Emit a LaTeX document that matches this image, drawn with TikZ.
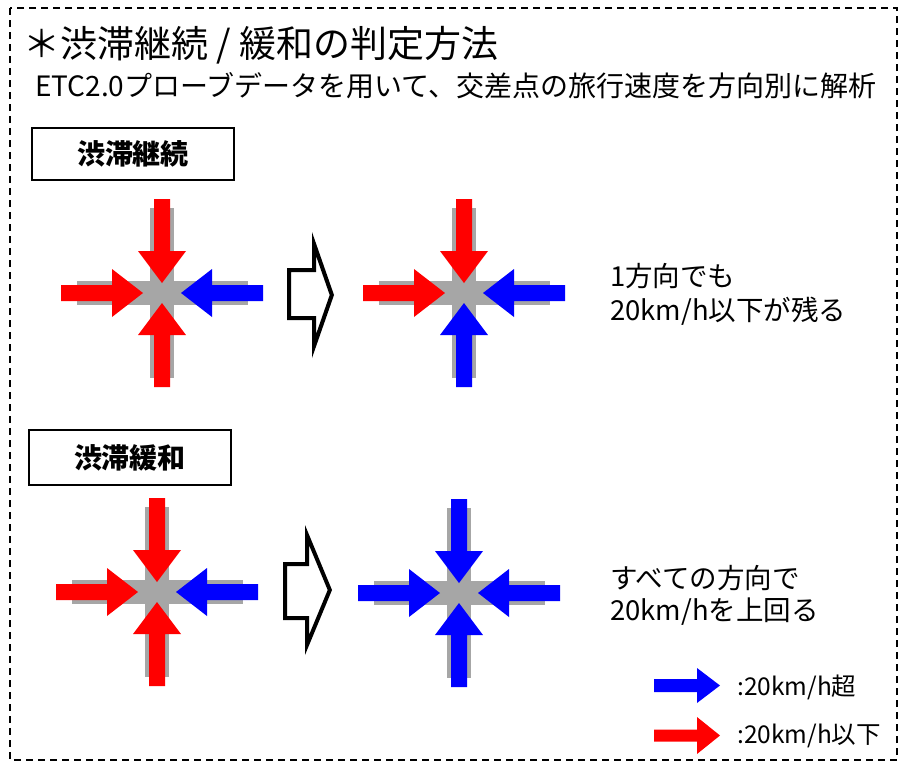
\documentclass[tikz,border=0pt]{standalone}
\usepackage{fontspec}
\setmainfont{Noto Sans CJK JP}
\definecolor{rd}{RGB}{255,0,0}
\definecolor{bl}{RGB}{0,0,255}
\definecolor{gr}{RGB}{166,166,166}
% horizontal incoming arrow (from the left)
\newcommand\harr[2]{\fill[#1,rotate=#2] (-101,-8) -- (-50,-8) -- (-50,-24) -- (-19,0) -- (-50,24) -- (-50,8) -- (-101,8) -- cycle;}
% vertical incoming arrow (from the left before rotation)
\newcommand\varr[2]{\fill[#1,rotate=#2] (-94,-8) -- (-42,-8) -- (-42,-24) -- (-10,0) -- (-42,24) -- (-42,8) -- (-94,8) -- cycle;}
\newcommand\crossing[6]{%
  \begin{scope}[shift={(#1,#2)}]
    \fill[gr] (-85,-12) rectangle (86,12);
    \fill[gr] (-12,-85) rectangle (12,85);
    \harr{#4}{0}
    \harr{#5}{180}
    \varr{#3}{-90}
    \varr{#6}{90}
  \end{scope}}
\begin{document}
\begin{tikzpicture}[x=1pt,y=-1pt,
  txt/.style={inner sep=0pt, anchor=west},
  labbox/.style={draw, line width=2pt, minimum width=202pt, inner sep=0pt,
    font=\bfseries\fontsize{28}{28}\selectfont},
  hollow/.style={fill=black, even odd rule}]
\useasboundingbox (0,0) rectangle (906,764);
\draw[line width=2.8pt, dash pattern=on 7pt off 5pt] (10,8) rectangle (897,760);

\node[txt, font=\fontsize{37}{37}\selectfont] (title) at (23,45) {＊渋滞継続 / 緩和の判定方法};
\node[txt, font=\fontsize{28}{28}\selectfont] (sub) at (35,86) {ETC2.0プローブデータを用いて、交差点の旅行速度を方向別に解析};

\node[labbox, minimum height=52pt] (lab1) at (133,154) {渋滞継続};
\node[labbox, minimum height=55pt] (lab2) at (130,457.5) {渋滞緩和};

\crossing{162}{293}{rd}{rd}{bl}{rd}
\crossing{464}{293}{rd}{rd}{bl}{bl}
\crossing{157}{592}{rd}{rd}{bl}{rd}
\crossing{459}{593}{bl}{bl}{bl}{bl}

\fill[hollow] (287,268) -- (312,268) -- (312,232) -- (334,295) -- (312,358) -- (312,320) -- (287,320) -- cycle
  (291,272) -- (316,272) -- (316,255.7) -- (329.7,295) -- (316,334.3) -- (316,316) -- (291,316) -- cycle;
\fill[hollow] (283,562) -- (305,562) -- (305,525) -- (332,590) -- (305,655) -- (305,620) -- (283,620) -- cycle
  (287,566) -- (309,566) -- (309,545) -- (327.7,590) -- (309,635) -- (309,616) -- (287,616) -- cycle;

\node[txt, font=\fontsize{27.5}{27.5}\selectfont] (r1a) at (610,276) {1方向でも};
\node[txt, font=\fontsize{27.5}{27.5}\selectfont] (r1b) at (610,311) {20km/h以下が残る};
\node[txt, font=\fontsize{27.5}{27.5}\selectfont] (r2a) at (610,578) {すべての方向で};
\node[txt, font=\fontsize{27.5}{27.5}\selectfont] (r2b) at (610,612) {20km/hを上回る};

\fill[bl] (654,679) -- (697,679) -- (697,668) -- (720,685.5) -- (697,703) -- (697,692) -- (654,692) -- cycle;
\fill[rd] (654,729.5) -- (697,729.5) -- (697,717) -- (720,735.5) -- (697,754) -- (697,741.5) -- (654,741.5) -- cycle;
\node[txt, font=\fontsize{24.5}{24.5}\selectfont] (leg1) at (737,687) {:20km/h超};
\node[txt, font=\fontsize{24.5}{24.5}\selectfont] (leg2) at (737,736) {:20km/h以下};
\end{tikzpicture}
\end{document}
